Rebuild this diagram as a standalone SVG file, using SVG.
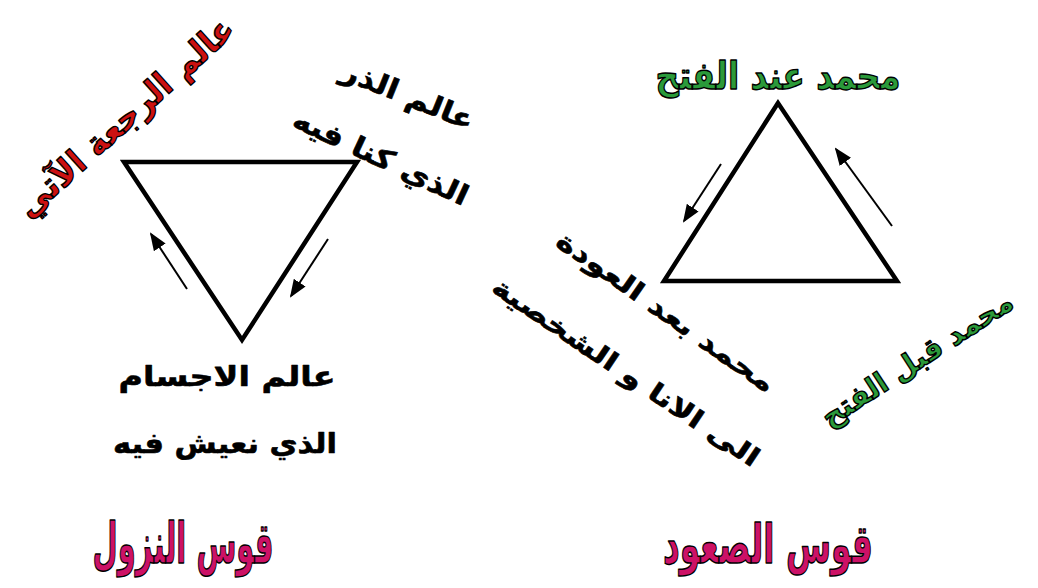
<svg xmlns="http://www.w3.org/2000/svg" width="1038" height="588" viewBox="0 0 1038 588">
<defs>
<style>
text{font-family:"DejaVu Sans",sans-serif;font-weight:bold;text-anchor:middle;stroke-linejoin:round}
.red{fill:#cc1111;stroke:#000;stroke-width:1.4}
.green{fill:#2a9a3a;stroke:#000;stroke-width:1.4}
.pink{fill:#cc1166;stroke:#000;stroke-width:1.5}
.blk{fill:#000;stroke:#000;stroke-width:0.6}
.tri{fill:none;stroke:#000;stroke-width:4.5;stroke-linejoin:miter}
.arr{stroke:#000;stroke-width:2;fill:none}
</style>
<marker id="ah" viewBox="0 0 18 14" refX="16" refY="7" markerWidth="18" markerHeight="14" markerUnits="userSpaceOnUse" orient="auto">
<path d="M0,0 L18,7 L0,14 Z" fill="#000"/>
</marker>
</defs>
<rect width="1038" height="588" fill="#fff"/>
<g id="tri-down"><polygon class="tri" points="124,162 357,162 242,340"/></g>
<g id="tri-up"><polygon class="tri" points="778,103 664,281 897,281"/></g>
<g id="connectors">
<line class="arr" x1="187" y1="289" x2="151" y2="234" marker-end="url(#ah)"/>
<line class="arr" x1="328" y1="239" x2="291" y2="296" marker-end="url(#ah)"/>
<line class="arr" x1="721" y1="164" x2="684" y2="221" marker-end="url(#ah)"/>
<line class="arr" x1="892" y1="226" x2="836" y2="149" marker-end="url(#ah)"/>
</g>
<g id="t-raja"><text class="red" font-size="34" transform="translate(125,117) rotate(-42)" y="12" textLength="280" lengthAdjust="spacingAndGlyphs">عالم الرجعة الآتي</text></g>
<g id="t-dhar"><text class="blk" font-size="28" transform="translate(408,95) rotate(22)" y="10" textLength="140" lengthAdjust="spacingAndGlyphs">عالم الذر</text></g>
<g id="t-kunna"><text class="blk" font-size="28" transform="translate(381,157) rotate(25)" y="10" textLength="190" lengthAdjust="spacingAndGlyphs">الذي كنا فيه</text></g>
<g id="t-ajsam"><text class="blk" font-size="28" x="227" y="386" textLength="217" lengthAdjust="spacingAndGlyphs">عالم الاجسام</text></g>
<g id="t-naeesh"><text class="blk" font-size="28" x="225" y="453" textLength="224" lengthAdjust="spacingAndGlyphs">الذي نعيش فيه</text></g>
<g id="t-nuzul"><text class="pink" font-size="56" x="183" y="563" textLength="181" lengthAdjust="spacingAndGlyphs">قوس النزول</text></g>
<g id="t-suud"><text class="pink" font-size="54" x="768" y="563" textLength="210" lengthAdjust="spacingAndGlyphs">قوس الصعود</text></g>
<g id="t-fath"><text class="green" font-size="38" x="778" y="89" textLength="245" lengthAdjust="spacingAndGlyphs">محمد عند الفتح</text></g>
<g id="t-awda"><text class="blk" font-size="26" transform="translate(666,312) rotate(35)" y="9" textLength="260" lengthAdjust="spacingAndGlyphs">محمد بعد العودة</text></g>
<g id="t-ana"><text class="blk" font-size="26" transform="translate(626,372) rotate(34)" y="9" textLength="316" lengthAdjust="spacingAndGlyphs">الى الانا و الشخصية</text></g>
<g id="t-qabl"><text class="green" font-size="29" transform="translate(917,359) rotate(-33)" y="10" textLength="222" lengthAdjust="spacingAndGlyphs">محمد قبل الفتح</text></g>
</svg>
